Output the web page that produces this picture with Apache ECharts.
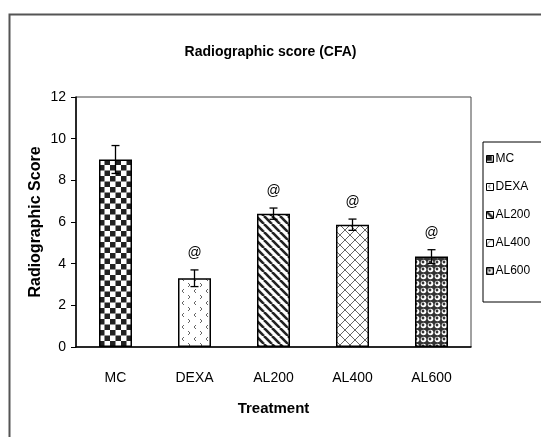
<!DOCTYPE html>
<html><head><meta charset="utf-8">
<script src="https://cdn.jsdelivr.net/npm/echarts@6/dist/echarts.min.js"></script>
<style>html,body{margin:0;padding:0;background:#fff}#c{width:541px;height:437px}</style>
</head><body><div id="c"></div>
<script>
const categories = ['MC', 'DEXA', 'AL200', 'AL400', 'AL600'];
const means = [9.0, 3.3, 6.4, 5.87, 4.34];
const errors = [0.67, 0.4, 0.27, 0.27, 0.33];
const marks = ['', '@', '@', '@', '@'];
const yTicks = { min: 0, max: 12, interval: 2 };

const FONT = "'Liberation Sans',Arial,sans-serif";

function mk(w, h, draw) {
  const c = document.createElement('canvas');
  c.width = w; c.height = h;
  const g = c.getContext('2d');
  g.fillStyle = '#fff'; g.fillRect(0, 0, w, h);
  draw(g);
  return { image: c, repeat: 'repeat' };
}
const patterns = [
  mk(11, 11, g => { g.fillStyle = '#222'; g.fillRect(0, 0, 5.5, 5.5); g.fillRect(5.5, 5.5, 5.5, 5.5); }),
  mk(12, 12, g => {
    g.strokeStyle = '#666'; g.lineWidth = 1;
    g.beginPath(); g.moveTo(4, 1); g.lineTo(2, 3); g.lineTo(4, 5); g.stroke();
    g.beginPath(); g.moveTo(8, 7); g.lineTo(10, 9); g.lineTo(8, 11); g.stroke();
  }),
  mk(8, 8, g => {
    g.strokeStyle = '#222'; g.lineWidth = 2.6;
    for (let k = -8; k <= 16; k += 8) { g.beginPath(); g.moveTo(k, 0); g.lineTo(k + 8, 8); g.stroke(); }
  }),
  mk(10, 10, g => {
    g.strokeStyle = '#666'; g.lineWidth = 1;
    g.beginPath(); g.moveTo(0, 5); g.lineTo(5, 0); g.lineTo(10, 5); g.lineTo(5, 10); g.closePath(); g.stroke();
  }),
  mk(7, 7, g => {
    g.fillStyle = '#333'; g.fillRect(0, 0, 7, 7);
    g.fillStyle = '#fff'; g.beginPath(); g.arc(3.5, 3.5, 2.8, 0, Math.PI * 2); g.fill();
    g.fillStyle = '#333'; g.beginPath(); g.arc(3, 3, 1.4, 0, Math.PI * 2); g.fill();
  })
];

const barSeries = categories.map((name, i) => ({
  name: name,
  type: 'bar',
  barWidth: 33,
  barGap: '-100%',
  data: categories.map((_, j) => (j === i ? means[j] : '-')),
  itemStyle: { color: patterns[i], borderColor: '#000', borderWidth: 1.5 },
  emphasis: { disabled: true },
  animation: false
}));

const errData = categories.map((_, i) => [i, means[i], errors[i]]);

const chart = echarts.init(document.getElementById('c'), null, { renderer: 'canvas' });
chart.setOption({
  animation: false,
  backgroundColor: '#fff',
  title: {
    text: 'Radiographic score (CFA)', left: 'center', top: 40,
    textStyle: { fontFamily: FONT, fontSize: 14, fontWeight: 'bold', color: '#000' }
  },
  graphic: [{
    type: 'rect', left: 7, top: 12, shape: { width: 580, height: 480 },
    style: { fill: 'none', stroke: '#555', lineWidth: 2 }, silent: true
  }],
  legend: {
    orient: 'vertical', left: 483, top: 142, icon: 'rect', itemWidth: 7, itemHeight: 7,
    itemGap: 14, padding: [10, 40, 24, 3], borderColor: '#000', borderWidth: 1,
    backgroundColor: '#fff', itemStyle: { borderColor: '#000', borderWidth: 1 },
    textStyle: { fontFamily: FONT, fontSize: 12, color: '#000', padding: [0, 0, 0, -3], lineHeight: 14 },
    data: categories
  },
  grid: { left: 76, top: 97, right: 70, bottom: 90, show: true, borderColor: '#444', borderWidth: 1, containLabel: false },
  xAxis: {
    type: 'category', data: categories,
    name: 'Treatment', nameLocation: 'middle', nameGap: 54, nameMoveOverlap: false,
    nameTextStyle: { fontFamily: FONT, fontSize: 15, fontWeight: 'bold', color: '#000' },
    axisLine: { lineStyle: { color: '#000', width: 1.5 } },
    axisTick: { length: 6, lineStyle: { color: '#000' } },
    axisLabel: { margin: 24, fontFamily: FONT, fontSize: 14, color: '#000' }
  },
  yAxis: {
    type: 'value', min: yTicks.min, max: yTicks.max, interval: yTicks.interval,
    name: 'Radiographic Score', nameLocation: 'middle', nameGap: 32, nameMoveOverlap: false,
    nameTextStyle: { fontFamily: FONT, fontSize: 16, fontWeight: 'bold', color: '#000' },
    axisLine: { show: true, lineStyle: { color: '#000', width: 1.5 } },
    axisTick: { show: true, length: 5, lineStyle: { color: '#000' } },
    splitLine: { show: false },
    axisLabel: { margin: 10, fontFamily: FONT, fontSize: 14, color: '#000' }
  },
  series: barSeries.concat([{
    type: 'custom',
    data: errData,
    encode: { x: 0, y: 1 },
    z: 10,
    silent: true,
    renderItem: function (params, api) {
      const i = api.value(0), m = api.value(1), e = api.value(2);
      const top = api.coord([i, m + e]);
      const bot = api.coord([i, m - e]);
      const x = top[0], cap = 4;
      const children = [
        { type: 'line', shape: { x1: x, y1: top[1], x2: x, y2: bot[1] }, style: { stroke: '#000', lineWidth: 1.3 } },
        { type: 'line', shape: { x1: x - cap, y1: top[1], x2: x + cap, y2: top[1] }, style: { stroke: '#000', lineWidth: 1.3 } },
        { type: 'line', shape: { x1: x - cap, y1: bot[1], x2: x + cap, y2: bot[1] }, style: { stroke: '#000', lineWidth: 1.3 } }
      ];
      const t = marks[params.dataIndex];
      if (t) {
        children.push({ type: 'text', style: { text: t, x: x, y: top[1] - 17, align: 'center', verticalAlign: 'middle', textAlign: 'center', textVerticalAlign: 'middle', font: '14px ' + FONT, fill: '#000' } });
      }
      return { type: 'group', children: children };
    }
  }])
});
</script></body></html>
